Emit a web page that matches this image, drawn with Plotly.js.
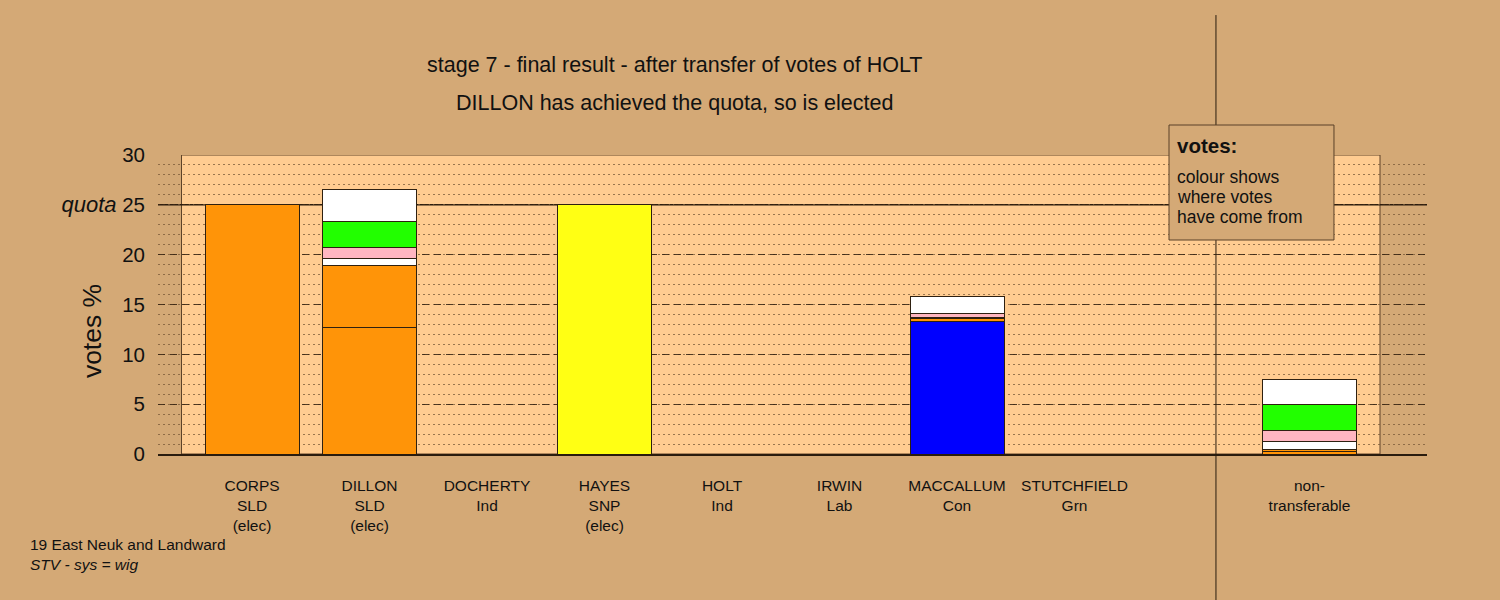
<!DOCTYPE html>
<html>
<head>
<meta charset="utf-8">
<script src="https://cdn.plot.ly/plotly-3.0.1.min.js"></script>
<style>
  html, body { margin: 0; padding: 0; background: #D4A976; }
  #chart { width: 1500px; height: 600px; }
</style>
</head>
<body>
<div id="chart"></div>
<script>
// ---- data ----
const candidates = ['CORPS', 'DILLON', 'DOCHERTY', 'HAYES', 'HOLT', 'IRWIN', 'MACCALLUM', 'STUTCHFIELD', 'non-'];
const parties    = ['SLD', 'SLD', 'Ind', 'SNP', 'Ind', 'Lab', 'Con', 'Grn', 'transferable'];
const statusTags = ['(elec)', '(elec)', '', '(elec)', '', '', '', '', ''];
const slots      = [0, 1, 2, 3, 4, 5, 6, 7, 9];

const firstPrefs      = [25.00, 12.67, 0, 25.00, 0, 0, 13.25, 0, 0];
const corpsSurplus    = [0, 6.29, 0, 0, 0, 0, 0.30, 0, 0.25];
const otherSurplus    = [0, 0, 0, 0, 0, 0, 0, 0, 0.25];
const fromDocherty    = [0, 0.70, 0, 0, 0, 0, 0.10, 0, 0.74];
const fromIrwin       = [0, 1.03, 0, 0, 0, 0, 0.45, 0, 1.07];
const fromStutchfield = [0, 2.61, 0, 0, 0, 0, 0, 0, 2.67];
const fromHolt        = [0, 3.25, 0, 0, 0, 0, 1.67, 0, 2.51];

const quota = 25;
const yTickVals = [0, 5, 10, 15, 20, 25, 30];
const yTickText = ['0', '5', '10', '15', '20', '<span style="font-size:22px"><i>quota</i></span> 25', '30'];

// ---- styles ----
const partyColour = { SLD: '#FF9408', SNP: '#FFFF14', Con: '#0000FF', Ind: '#FFFFFF', Lab: '#FFB6C1', Grn: '#22FF00', transferable: '#FFFFFF' };
const BG = '#D4A976';
const PANEL = '#FFCC91';
const DARK = '#2a1c0e';
const outline = { color: '#2e2010', width: 1 };
const xRange = [-0.8, 10];

function barTrace(name, values, colour) {
  return {
    type: 'bar', name: name, x: slots, y: values, width: 0.8,
    marker: { color: colour, line: outline },
    hoverinfo: 'name+y', showlegend: false
  };
}

const traces = [
  barTrace('first preferences', firstPrefs, parties.map(p => partyColour[p])),
  barTrace('CORPS surplus', corpsSurplus, partyColour.SLD),
  barTrace('surplus', otherSurplus, partyColour.SLD),
  barTrace('DOCHERTY', fromDocherty, partyColour.Ind),
  barTrace('IRWIN', fromIrwin, partyColour.Lab),
  barTrace('STUTCHFIELD', fromStutchfield, partyColour.Grn),
  barTrace('HOLT', fromHolt, partyColour.Ind)
];

const tickText = candidates.map((c, i) => c + '<br>' + parties[i] + (statusTags[i] ? '<br>' + statusTags[i] : ''));

const layout = {
  width: 1500, height: 600,
  paper_bgcolor: BG, plot_bgcolor: 'rgba(0,0,0,0)',
  margin: { l: 158, r: 73, t: 155, b: 146 },
  barmode: 'stack',
  font: { family: 'Liberation Sans, Arial, sans-serif', color: '#111' },
  xaxis: {
    range: xRange, tickvals: slots, ticktext: tickText,
    tickfont: { size: 15.5, color: '#111' }, showgrid: false, zeroline: false,
    showline: true, linecolor: DARK, linewidth: 2, ticks: '', ticklabelstandoff: 16,
    fixedrange: true
  },
  yaxis: {
    range: [0, 30], tickvals: yTickVals, ticktext: yTickText,
    tickfont: { size: 20.5, color: '#111' }, ticklabelstandoff: 12,
    showgrid: true, gridcolor: 'rgba(50,32,15,0.85)', gridwidth: 1, griddash: '7px,5px',
    minor: { dtick: 1, showgrid: true, gridcolor: 'rgba(120,88,55,0.75)', gridwidth: 1, griddash: '2px,3px' },
    zeroline: false, showline: false, fixedrange: true
  },
  shapes: [
    { type: 'rect', xref: 'x', yref: 'y', x0: -0.6, x1: 9.6, y0: 0, y1: 30,
      fillcolor: PANEL, line: { color: '#5e4328', width: 1 }, layer: 'below' },
    { type: 'line', xref: 'x', yref: 'y', x0: xRange[0], x1: xRange[1], y0: quota, y1: quota,
      line: { color: DARK, width: 1.5 }, layer: 'below' },
    { type: 'line', xref: 'paper', yref: 'paper', x0: 0.8337, x1: 0.8337, y0: -0.5, y1: 1.468,
      line: { color: DARK, width: 1 }, layer: 'above' },
    { type: 'rect', xref: 'paper', yref: 'paper', x0: 0.7967, x1: 0.9267, y0: 0.7157, y1: 1.1003,
      fillcolor: BG, line: { color: '#5a4028', width: 1 }, layer: 'above' }
  ],
  annotations: [
    { text: 'stage 7 - final result - after transfer of votes of HOLT', xref: 'paper', yref: 'paper',
      x: 0.4074, y: 1.3, xanchor: 'center', yanchor: 'middle', showarrow: false, font: { size: 21.5 } },
    { text: 'DILLON has achieved the quota, so is elected', xref: 'paper', yref: 'paper',
      x: 0.4074, y: 1.1739, xanchor: 'center', yanchor: 'middle', showarrow: false, font: { size: 21.5 } },
    { text: 'votes %', xref: 'paper', yref: 'paper', x: -0.052, y: 0.411, textangle: -90,
      xanchor: 'center', yanchor: 'middle', showarrow: false, font: { size: 26.5 } },
    { text: '<b>votes:</b>', xref: 'paper', yref: 'paper', x: 0.8014, y: 1.0334,
      xanchor: 'left', yanchor: 'middle', showarrow: false, font: { size: 20.5 } },
    { text: 'colour shows', xref: 'paper', yref: 'paper', x: 0.8014, y: 0.926,
      xanchor: 'left', yanchor: 'middle', showarrow: false, font: { size: 17.5 } },
    { text: 'where votes', xref: 'paper', yref: 'paper', x: 0.8014, y: 0.8595,
      xanchor: 'left', yanchor: 'middle', showarrow: false, font: { size: 17.5 } },
    { text: 'have come from', xref: 'paper', yref: 'paper', x: 0.8014, y: 0.7926,
      xanchor: 'left', yanchor: 'middle', showarrow: false, font: { size: 17.5 } },
    { text: '19 East Neuk and Landward', xref: 'paper', yref: 'paper', x: -0.1025, y: -0.3043,
      xanchor: 'left', yanchor: 'middle', showarrow: false, font: { size: 15.5 } },
    { text: '<i>STV - sys = wig</i>', xref: 'paper', yref: 'paper', x: -0.1025, y: -0.3679,
      xanchor: 'left', yanchor: 'middle', showarrow: false, font: { size: 15.5 } }
  ]
};

Plotly.newPlot('chart', traces, layout, { displayModeBar: false, staticPlot: true });
</script>
</body>
</html>
